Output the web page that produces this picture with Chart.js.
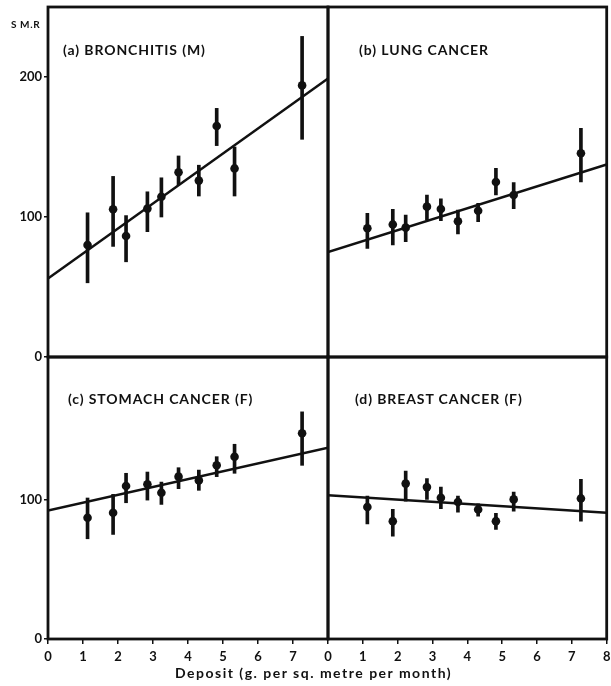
<!DOCTYPE html>
<html>
<head>
<meta charset="utf-8">
<script src="https://cdn.jsdelivr.net/npm/chart.js@4.4.1/dist/chart.umd.min.js"></script>
<style>
  body { margin: 0; background: #fff; }
  #wrap { position: relative; width: 611px; height: 686px; overflow: hidden; font-family: Lato, "Open Sans", sans-serif; color: #111; }
  canvas { position: absolute; }
  .lbl { position: absolute; font-weight: bold; font-size: 14px; line-height: 17px; letter-spacing: 0.9px; white-space: nowrap; }
</style>
</head>
<body>
<div id="wrap">
  <canvas id="chartA" width="340" height="365" style="left:0;top:0"></canvas>
  <canvas id="chartB" width="291" height="365" style="left:320px;top:0"></canvas>
  <canvas id="chartC" width="340" height="336" style="left:0;top:350px"></canvas>
  <canvas id="chartD" width="291" height="336" style="left:320px;top:350px"></canvas>

  <div class="lbl" style="left:11px;top:17px;font-size:10px;line-height:14px;letter-spacing:0.6px">S M.R</div>
  <div class="lbl" style="left:63px;top:41px">(a) BRONCHITIS (M)</div>
  <div class="lbl" style="left:359px;top:41px">(b) LUNG CANCER</div>
  <div class="lbl" style="left:68px;top:390px">(c) STOMACH CANCER (F)</div>
  <div class="lbl" style="left:355px;top:390px">(d) BREAST CANCER (F)</div>
  <div class="lbl" style="left:175px;top:664px;letter-spacing:1.5px">Deposit (g. per sq. metre per month)</div>
</div>

<script>
// deposit (g per sq. metre per month) for the ten areas, same in every panel
const deposit = [1.13, 1.86, 2.23, 2.84, 3.24, 3.73, 4.31, 4.82, 5.33, 7.26];

// (a) bronchitis, males
const bronchitisSMR = [80, 105.5, 86.4, 106, 114.5, 132, 126, 165, 134.7, 194];
const bronchitisLo  = [53, 79, 68, 89.5, 100, 123, 115, 151, 115, 155.5];
const bronchitisHi  = [103, 129, 101, 118, 128, 143.6, 137, 177.6, 150, 229];
const bronchitisFit = [56, 199];   // fitted line at deposit 0 and 8

// (b) lung cancer
const lungSMR = [92, 94.7, 92.4, 107.4, 105.7, 97, 104.5, 125, 115.7, 145.5];
const lungLo  = [77.6, 80, 82.4, 97.9, 97.4, 88, 96.6, 115.7, 106, 125];
const lungHi  = [102.6, 105.5, 101.4, 115.7, 112.9, 105, 109.8, 134.8, 124.5, 163.3];
const lungFit = [75, 137.5];

// (c) stomach cancer, females
const stomachSMR = [86.9, 90.4, 109.6, 110.8, 104.8, 116.3, 113.6, 124.4, 130.6, 147.4];
const stomachLo  = [71.8, 74.9, 97.6, 99.5, 96.4, 107.7, 106.5, 116.3, 118.7, 124.4];
const stomachHi  = [101, 103.6, 118.7, 119.6, 112.4, 122.7, 121, 130.6, 139.5, 162.7];
const stomachFit = [92, 137];

// (d) breast cancer, females
const breastSMR = [94.5, 84.4, 111.3, 108.8, 101.2, 98.1, 92.8, 84.4, 100, 100.7];
const breastLo  = [82.5, 73.7, 98.8, 100, 93.3, 90.9, 88, 78.5, 91.6, 84.4];
const breastHi  = [102.4, 92.8, 120.3, 114.9, 108.8, 102.4, 96.9, 90, 105.2, 114.4];
const breastFit = [103, 90.5];

const fitX = [0, 8];
const yTicksTop = [0, 100, 200];
const yTicksBottom = [0, 100];
const xTicksLeft = [0, 1, 2, 3, 4, 5, 6, 7];
const xTicksRight = [0, 1, 2, 3, 4, 5, 6, 7, 8];

const INK = '#111';
const tickFont = { family: 'Lato', weight: 'bold', size: 13 };

// box round the plot area
const framePlugin = {
  id: 'frame',
  afterDatasetsDraw(chart) {
    const { ctx, chartArea: a } = chart;
    ctx.save();
    ctx.strokeStyle = INK;
    ctx.lineWidth = 2.8;
    ctx.strokeRect(a.left, a.top, a.right - a.left, a.bottom - a.top);
    ctx.restore();
  }
};

function makePanel(id, smr, lo, hi, fit, opt) {
  const yAxis = {
    type: 'linear',
    min: 0,
    max: opt.yMax,
    display: opt.showY,
    afterBuildTicks: s => { s.ticks = opt.yTicks.map(v => ({ value: v })); },
    afterFit: s => {
      if (opt.showY) s.width = opt.yWidth;
      s.paddingTop = 0;
      s.paddingBottom = 0;
    },
    border: { display: false },
    grid: { drawOnChartArea: false, drawTicks: true, tickLength: 4, color: INK, lineWidth: 1.5 },
    ticks: { color: INK, font: tickFont, padding: 2 }
  };

  const xAxis = {
    type: 'linear',
    min: 0,
    max: 8,
    offset: false,
    display: opt.showX,
    afterBuildTicks: s => { s.ticks = (opt.xTicks || []).map(v => ({ value: v })); },
    afterFit: s => {
      if (opt.showX) s.height = 47;
      s.paddingLeft = 0;
      s.paddingRight = 0;
    },
    border: { display: false },
    grid: { offset: false, drawOnChartArea: false, drawTicks: true, tickLength: 5, color: INK, lineWidth: 1.5 },
    ticks: { color: INK, font: tickFont, padding: 5, maxRotation: 0 }
  };

  return new Chart(document.getElementById(id), {
    type: 'scatter',
    data: {
      datasets: [
        {
          type: 'line',
          data: fitX.map((x, i) => ({ x: x, y: fit[i] })),
          borderColor: INK,
          borderWidth: 2.5,
          pointRadius: 0,
          fill: false
        },
        {
          type: 'bar',
          data: deposit.map((x, i) => ({ x: x, y: [lo[i], hi[i]] })),
          backgroundColor: INK,
          borderWidth: 0,
          barThickness: 3
        },
        {
          type: 'scatter',
          data: deposit.map((x, i) => ({ x: x, y: smr[i] })),
          backgroundColor: INK,
          borderWidth: 0,
          pointRadius: 4.3
        }
      ]
    },
    options: {
      responsive: false,
      animation: false,
      layout: { padding: opt.padding },
      scales: { x: xAxis, y: yAxis },
      plugins: { legend: { display: false }, tooltip: { enabled: false } }
    },
    plugins: [framePlugin]
  });
}

makePanel('chartA', bronchitisSMR, bronchitisLo, bronchitisHi, bronchitisFit, {
  yMax: 250, yTicks: yTicksTop, showY: true, yWidth: 48, showX: false,
  padding: { top: 7, right: 12, bottom: 8, left: 0 }
});
makePanel('chartB', lungSMR, lungLo, lungHi, lungFit, {
  yMax: 250, yTicks: yTicksTop, showY: false, showX: false,
  padding: { top: 7, right: 2, bottom: 8, left: 8 }
});
makePanel('chartC', stomachSMR, stomachLo, stomachHi, stomachFit, {
  yMax: 202, yTicks: yTicksBottom, showY: true, yWidth: 48, showX: true, xTicks: xTicksLeft,
  padding: { top: 7, right: 12, bottom: 0, left: 0 }
});
makePanel('chartD', breastSMR, breastLo, breastHi, breastFit, {
  yMax: 202, yTicks: yTicksBottom, showY: false, showX: true, xTicks: xTicksRight,
  padding: { top: 7, right: 2, bottom: 0, left: 8 }
});
</script>
</body>
</html>
